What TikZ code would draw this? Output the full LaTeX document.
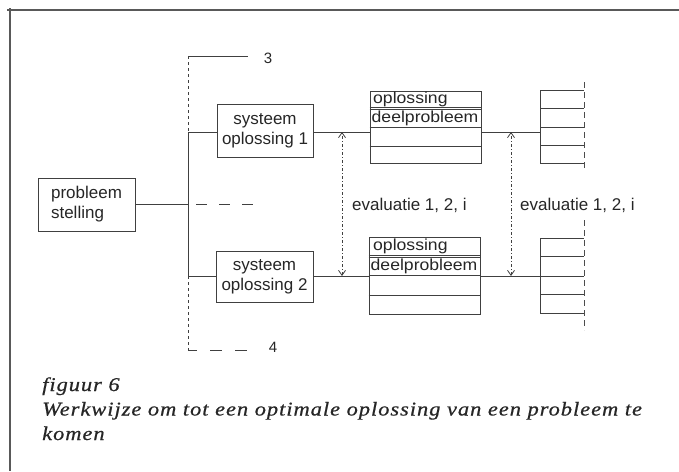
\documentclass[tikz,border=0pt]{standalone}
\usepackage{fontspec}
\setmainfont{Liberation Serif}
\newfontfamily\labfont{Liberation Sans}
\newfontfamily\tabfont[FakeStretch=1.1]{Liberation Sans}
\newfontfamily\capfont[FakeStretch=1.15,LetterSpace=5,FakeBold=0.6]{Liberation Serif}
\usetikzlibrary{arrows.meta}

\tikzset{
  ln/.style={draw=black!75, line width=0.9pt},
  boxed/.style={draw=black!75, line width=0.9pt, inner sep=0pt, align=center,
    font=\labfont\fontsize{17}{20}\selectfont, text=black!85},
  tablebox/.style={draw=black!75, line width=0.9pt, inner sep=0pt, minimum width=111pt},
  tabtxt/.style={font=\tabfont\fontsize{16}{18}\selectfont, text=black!85, anchor=west, inner sep=0pt},
  lbl/.style={font=\labfont\fontsize{17}{20}\selectfont, text=black!85, anchor=west, inner sep=0pt},
  numlbl/.style={font=\labfont\fontsize{15}{17}\selectfont, text=black!85, inner sep=0pt},
  captxt/.style={font=\capfont\itshape\fontsize{19.5}{24}\selectfont, text=black!85, anchor=base west, inner sep=0pt},
  evalarrow/.style={draw=black!75, line width=0.8pt,
    dash pattern=on 3pt off 2pt on 1pt off 2pt,
    {Straight Barb[length=5pt,width=7pt]}-{Straight Barb[length=5pt,width=7pt]}},
  stackedge/.style={draw=black!70, line width=0.9pt, dash pattern=on 6pt off 4pt},
}

\begin{document}
\begin{tikzpicture}[x=1pt,y=-1pt]
\useasboundingbox (0,0) rectangle (679,471);

% page frame (top and left edges)
\draw[draw=black!65, line width=1.3pt] (7,10) -- (679,10);
\draw[draw=black!65, line width=1.3pt] (10,8) -- (10,471);

% problem statement
\node[boxed, minimum width=97pt, minimum height=53pt, align=left] (prob) at (86.5,204.5) {probleem\\stelling};

% system solutions
\node[boxed, minimum width=96pt, minimum height=53pt] (sys1) at (265,131) {systeem\\oplossing 1};
\node[boxed, minimum width=97pt, minimum height=51pt] (sys2) at (264.5,276.5) {systeem\\oplossing 2};

% branch points on the left spine
\coordinate (top) at (188,56);
\coordinate (b1) at (188,132);
\coordinate (pj) at (188,204.5);
\coordinate (b2) at (188,276);
\coordinate (bot) at (188,350);

% spine and bracket
\draw[ln] (top) -- (248,56);
\node[numlbl] (n3) at (268,58) {3};
\draw[ln, dash pattern=on 3pt off 3pt] (top) -- (b1);
\draw[ln] (b1) -- (b2);
\draw[ln, dash pattern=on 3pt off 3pt] (b2) -- (bot);
\draw[ln, dash pattern=on 9pt off 13pt on 12pt off 13pt on 12pt off 20pt] (bot) -- (247,350);
\node[numlbl] (n4) at (273,347) {4};

\draw[ln] (prob.east) -- (pj);
\draw[ln, dash pattern=on 0pt off 8pt on 11pt off 12pt on 11pt off 12pt on 11pt off 20pt] (pj) -- (257,204.5);

\draw[ln] (b1) -- (sys1.west |- b1);
\draw[ln] (b2) -- (sys2.west |- b2);

% partial-problem tables (double rule under the "oplossing" row)
\node[tablebox, minimum height=72pt] (t1) at (425.5,127) {};
\draw[ln] (t1.west |- 0,107) -- (t1.east |- 0,107);
\draw[ln] (t1.west |- 0,109.5) -- (t1.east |- 0,109.5);
\draw[ln] (t1.west |- 0,127) -- (t1.east |- 0,127);
\draw[ln] (t1.west |- 0,146) -- (t1.east |- 0,146);
\node[tabtxt] (t1a) at (373,99) {oplossing};
\node[tabtxt] (t1b) at (371.5,118) {deelprobleem};

\node[tablebox, minimum height=77pt] (t2) at (424.5,275.5) {};
\draw[ln] (t2.west |- 0,255) -- (t2.east |- 0,255);
\draw[ln] (t2.west |- 0,257.5) -- (t2.east |- 0,257.5);
\draw[ln] (t2.west |- 0,275) -- (t2.east |- 0,275);
\draw[ln] (t2.west |- 0,295) -- (t2.east |- 0,295);
\node[tabtxt] (t2a) at (373,246.5) {oplossing};
\node[tabtxt] (t2b) at (370.5,266) {deelprobleem};

\draw[ln] (sys1.east |- b1) -- (t1.west |- b1);
\draw[ln] (sys2.east |- b2) -- (t2.west |- b2);

% stacks on the right
\coordinate (s1) at (540,132);
\coordinate (s2) at (540,276);
\draw[ln] (540,90) -- (540,163);
\foreach \yy in {90,108,127,145,163} \draw[ln] (540,\yy) -- (584,\yy);
\draw[stackedge] (584,82) -- (584,170);
\draw[ln] (540,238) -- (540,313);
\foreach \yy in {238,256,276,294,313} \draw[ln] (540,\yy) -- (584,\yy);
\draw[stackedge] (584,220) -- (584,330);

\draw[ln] (t1.east |- s1) -- (s1);
\draw[ln] (t2.east |- s2) -- (s2);

% evaluation arrows
\coordinate (e1a) at (342,132);
\coordinate (e1b) at (342,276);
\coordinate (e2a) at (511,132);
\coordinate (e2b) at (511,276);
\draw[evalarrow] (e1b) -- (e1a);
\draw[evalarrow] (e2b) -- (e2a);
\node[lbl] (ev1) at (352,205) {evaluatie 1, 2, i};
\node[lbl] (ev2) at (520,205) {evaluatie 1, 2, i};

% caption
\node[captxt] (c1) at (42,391) {figuur 6};
\node[captxt] (c2) at (42,415.5) {Werkwijze om tot een optimale oplossing van een probleem te};
\node[captxt] (c3) at (42,440) {komen};
\end{tikzpicture}
\end{document}
